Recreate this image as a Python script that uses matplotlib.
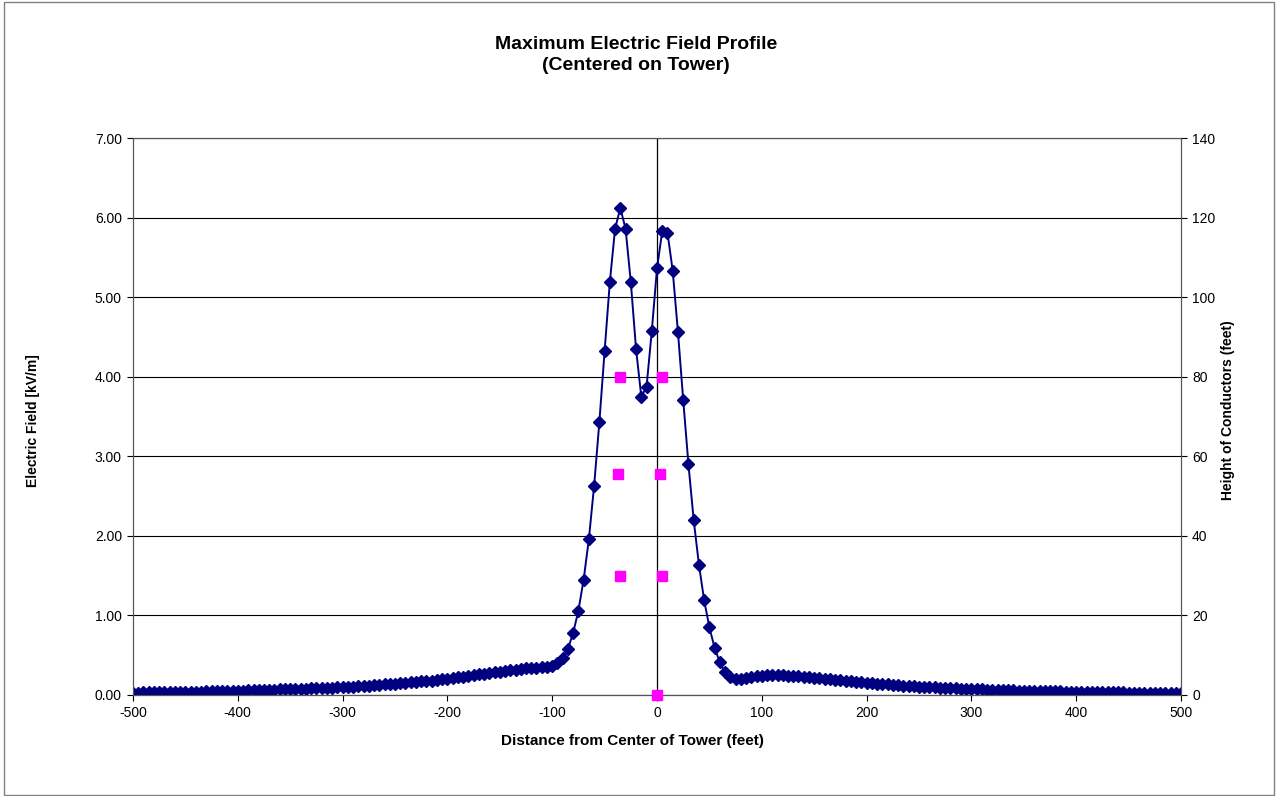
import numpy as np
import matplotlib.pyplot as plt
from matplotlib.patches import Rectangle

plt.rcParams['font.family'] = ['Liberation Sans', 'DejaVu Sans']
plt.rcParams['axes.unicode_minus'] = False

# distance from tower centre, 5 ft steps
distance = np.arange(-500, 501, 5)

# electric field [kV/m], -500 .. -100
e_left = [
    0.030, 0.031, 0.032, 0.033, 0.034, 0.035, 0.036, 0.037, 0.038, 0.039,
    0.040, 0.041, 0.042, 0.043, 0.044, 0.045, 0.047, 0.048, 0.050, 0.052,
    0.054, 0.056, 0.058, 0.060, 0.062, 0.064, 0.066, 0.068, 0.070, 0.072,
    0.074, 0.076, 0.078, 0.080, 0.083, 0.086, 0.088, 0.091, 0.093, 0.095,
    0.098, 0.102, 0.106, 0.110, 0.114, 0.118, 0.122, 0.127, 0.132, 0.137,
    0.142, 0.147, 0.152, 0.158, 0.164, 0.170, 0.176, 0.182, 0.189, 0.196,
    0.205, 0.213, 0.222, 0.231, 0.240, 0.249, 0.258, 0.267, 0.275, 0.283,
    0.290, 0.300, 0.310, 0.320, 0.330, 0.335, 0.340, 0.345, 0.350, 0.355,
    0.365,
]
# -95 .. 75
e_core = [
    0.40, 0.46, 0.58, 0.78, 1.06, 1.45, 1.96, 2.63, 3.43, 4.32,
    5.19, 5.86, 6.12, 5.86, 5.19, 4.35, 3.75, 3.87, 4.57, 5.36,
    5.83, 5.81, 5.33, 4.56, 3.71, 2.90, 2.20, 1.64, 1.19, 0.85,
    0.59, 0.41, 0.285, 0.22, 0.20,
]
# 80 .. 500
e_right = [
    0.200, 0.210, 0.225, 0.235, 0.245, 0.250, 0.252, 0.252, 0.248, 0.244,
    0.239, 0.234, 0.228, 0.222, 0.216, 0.209, 0.202, 0.195, 0.189, 0.183,
    0.177, 0.171, 0.165, 0.159, 0.153, 0.147, 0.142, 0.137, 0.132, 0.127,
    0.122, 0.118, 0.114, 0.110, 0.106, 0.102, 0.098, 0.095, 0.092, 0.089,
    0.086, 0.083, 0.080, 0.077, 0.075, 0.072, 0.070, 0.068, 0.066, 0.064,
    0.062, 0.060, 0.058, 0.056, 0.055, 0.053, 0.052, 0.050, 0.049, 0.047,
    0.046, 0.045, 0.043, 0.042, 0.041, 0.040, 0.039, 0.038, 0.037, 0.036,
    0.035, 0.034, 0.033, 0.032, 0.031, 0.031, 0.030, 0.029, 0.028, 0.028,
    0.027, 0.026, 0.026, 0.025, 0.025,
]
efield = np.array(e_left + e_core + e_right)

# conductor positions
cond_x = [-35, 5, -37.5, 2.5, -35, 5, 0]
cond_h = [80, 80, 55.5, 55.5, 30, 30, 0]

W, H = 1278, 796
fig = plt.figure(figsize=(W / 100, H / 100), dpi=100)
fig.patches.append(Rectangle((4 / W, 1 / H), 1270 / W, 793 / H, transform=fig.transFigure,
                             fill=False, ec='#808080', lw=1))

ax = fig.add_axes([133 / W, 1 - 695 / H, (1181 - 133) / W, (695 - 138) / H])
ax2 = ax.twinx()

ax.set_xlim(-500, 500)
ax.set_ylim(0, 7)
ax2.set_ylim(0, 140)
ax.set_xticks(np.arange(-500, 501, 100))
ax.set_yticks(np.arange(0, 7.01, 1))
ax.set_yticklabels([f'{v:.2f}' for v in np.arange(0, 7.01, 1)])
ax2.set_yticks(np.arange(0, 141, 20))

ax.grid(axis='y', color='black', lw=0.8)
ax.axvline(0, color='black', lw=0.9)
for a in (ax, ax2):
    a.tick_params(labelsize=10, length=4, width=0.8, direction='out', pad=4)
    for s in a.spines.values():
        s.set_color('#555555')
        s.set_linewidth(0.8)
ax.spines['bottom'].set_color('black')

ax.plot(distance, efield, color='#000080', lw=1.4, marker='D', ms=6, zorder=3)
ax2.plot(cond_x, cond_h, ls='none', marker='s', ms=7, color='#FF00FF', mec='#FF00FF',
         clip_on=False, zorder=4)

fig.text(636 / W, 1 - 55 / H, 'Maximum Electric Field Profile\n(Centered on Tower)',
         ha='center', va='center', fontsize=14, fontweight='bold', linespacing=1.35)
fig.text(632 / W, 1 - 741 / H, 'Distance from Center of Tower (feet)',
         ha='center', va='center', fontsize=11, fontweight='bold')
fig.text(33 / W, 1 - 421 / H, 'Electric Field [kV/m]', rotation=90,
         ha='center', va='center', fontsize=10, fontweight='bold')
fig.text(1228 / W, 1 - 410 / H, 'Height of Conductors (feet)', rotation=90,
         ha='center', va='center', fontsize=10, fontweight='bold')

fig.savefig('out.png', dpi=100)
